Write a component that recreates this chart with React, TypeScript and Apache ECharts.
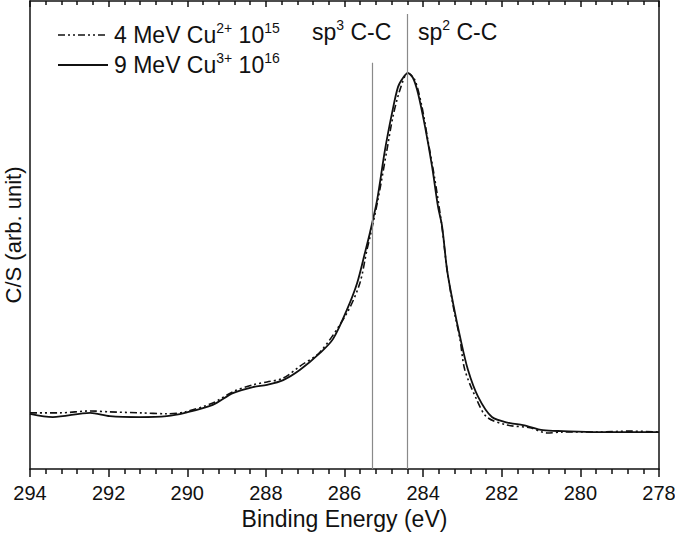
import React, { useEffect, useRef } from "react";
import * as echarts from "echarts";

const energies4 = [294.0, 293.24, 292.47, 291.97, 291.2, 290.52, 290.06, 289.35, 288.84, 288.33, 287.97, 287.56, 287.13, 286.62, 285.94, 285.61, 285.43, 285.35, 285.15, 284.92, 284.77, 284.59, 284.39, 284.21, 284.03, 283.88, 283.7, 283.52, 283.39, 283.24, 283.06, 282.94, 282.63, 282.38, 281.87, 281.28, 280.85, 280.44, 279.58, 278.74, 278.0];
const values4 = [12.0, 12.0, 12.4, 12.2, 12.0, 11.8, 12.2, 14.1, 16.5, 18.0, 18.6, 19.4, 22.0, 25.0, 33.3, 39.7, 46.8, 49.6, 57.5, 68.2, 75.2, 81.0, 84.6, 83.1, 77.4, 70.3, 61.8, 51.7, 42.5, 35.0, 27.6, 21.2, 14.7, 11.1, 9.4, 8.8, 7.7, 7.9, 7.9, 8.1, 7.9];

const energies9 = [294.0, 293.42, 292.47, 291.97, 291.2, 290.52, 290.06, 289.35, 288.84, 288.33, 287.97, 287.56, 287.13, 286.62, 286.29, 285.94, 285.68, 285.48, 285.35, 285.17, 284.97, 284.79, 284.64, 284.51, 284.39, 284.26, 284.13, 283.95, 283.77, 283.62, 283.52, 283.39, 283.24, 283.06, 282.86, 282.6, 282.25, 281.79, 281.46, 280.95, 280.44, 279.58, 278.74, 278.0];
const values9 = [11.8, 11.1, 12.0, 11.3, 11.1, 11.3, 12.0, 13.7, 16.2, 17.5, 18.0, 19.0, 21.2, 24.8, 27.8, 34.0, 39.7, 46.2, 50.6, 57.5, 68.2, 76.1, 81.6, 83.6, 84.6, 83.6, 80.3, 73.1, 64.5, 56.0, 52.0, 42.5, 35.5, 28.2, 21.2, 15.4, 11.1, 9.8, 9.4, 8.3, 8.1, 7.9, 7.9, 7.9];

const refEnergies = [284.4, 285.3];
const refTops = [97.2, 86.8];
const refLabels = ["sp{sup|2} C-C", "sp{sup|3} C-C"];

const legendLabels = ["4 MeV Cu{sup|2+} 10{sup|15}", "9 MeV Cu{sup|3+} 10{sup|16}"];
const xTitle = "Binding Energy (eV)";
const yTitle = "C/S (arb. unit)";

const FONT = "'Liberation Sans', Arial, sans-serif";
const INK = "#111";

export default function App() {
  const ref = useRef<HTMLDivElement>(null);
  useEffect(() => {
    if (!ref.current) return;
    const chart = echarts.init(ref.current, null, { renderer: "svg" });
    const richSup = {
      sup: { fontSize: 14, fontFamily: FONT, fill: INK, verticalAlign: "top", lineHeight: 12 },
    };
    const xBase = {
      type: "value",
      min: 278,
      max: 294,
      interval: 2,
      inverse: true,
      splitLine: { show: false },
      axisLine: { show: true, onZero: false, lineStyle: { color: INK, width: 1.5 } },
    };
    const txt = (text: string, left: number, top: number) => ({
      type: "text", left, top,
      style: { text, fontSize: 23, fontFamily: FONT, fill: INK, lineHeight: 28, rich: richSup },
    });
    const option: any = {
      animation: false,
      backgroundColor: "#fff",
      grid: { left: 30, right: 16, top: 1, bottom: 66, outerBoundsMode: "none", containLabel: false },
      xAxis: [
        {
          ...xBase,
          position: "bottom",
          name: xTitle,
          nameLocation: "middle",
          nameGap: 36,
          nameTextStyle: { fontSize: 23, fontFamily: FONT, color: INK },
          axisTick: { show: true, inside: false, length: 8, lineStyle: { color: INK, width: 1.5 } },
          minorTick: { show: true, splitNumber: 5, length: 5, lineStyle: { color: INK, width: 1.5 } },
          axisLabel: { show: true, fontSize: 20, fontFamily: FONT, color: INK, margin: 14 },
        },
        {
          ...xBase,
          position: "top",
          axisTick: { show: true, inside: true, length: 6, lineStyle: { color: INK, width: 1.5 } },
          minorTick: { show: true, splitNumber: 5, length: 4, lineStyle: { color: INK, width: 1.5 } },
          axisLabel: { show: false },
        },
      ],
      yAxis: [
        {
          type: "value",
          min: 0,
          max: 100,
          position: "left",
          name: yTitle,
          nameLocation: "middle",
          nameGap: 6,
          nameTextStyle: { fontSize: 22, fontFamily: FONT, color: INK },
          axisLine: { show: true, lineStyle: { color: INK, width: 1.5 } },
          axisTick: { show: false },
          axisLabel: { show: false },
          splitLine: { show: false },
        },
        {
          type: "value",
          min: 0,
          max: 100,
          position: "right",
          axisLine: { show: true, lineStyle: { color: INK, width: 1.5 } },
          axisTick: { show: false },
          axisLabel: { show: false },
          splitLine: { show: false },
        },
      ],
      series: [
        {
          name: "4 MeV",
          type: "line",
          data: energies4.map((e, i) => [e, values4[i]]),
          smooth: 0.3,
          symbol: "none",
          lineStyle: { color: INK, width: 1.6, type: [7, 3, 2, 3, 2, 3] },
          z: 3,
        },
        {
          name: "9 MeV",
          type: "line",
          data: energies9.map((e, i) => [e, values9[i]]),
          smooth: 0.3,
          symbol: "none",
          lineStyle: { color: INK, width: 1.8 },
          z: 4,
          markLine: {
            silent: true,
            symbol: "none",
            animation: false,
            label: { show: false },
            lineStyle: { color: "#8a8a8a", width: 1.2, type: "solid" },
            data: refEnergies.map((e, i) => [{ coord: [e, refTops[i]] }, { coord: [e, 0] }]),
          },
        },
      ],
      graphic: [
        { type: "line", shape: { x1: 58, y1: 35, x2: 108, y2: 35 }, style: { stroke: INK, lineWidth: 1.6, lineDash: [7, 3, 2, 3, 2, 3] } },
        { type: "line", shape: { x1: 58, y1: 65, x2: 108, y2: 65 }, style: { stroke: INK, lineWidth: 1.8 } },
        txt(legendLabels[0], 114, 21),
        txt(legendLabels[1], 114, 51),
        txt(refLabels[1], 312, 18),
        txt(refLabels[0], 418, 18),
      ],
    };
    chart.setOption(option);
    return () => chart.dispose();
  }, []);
  return <div ref={ref} style={{ position: "fixed", left: 0, top: 0, width: 675, height: 535 }} />;
}
